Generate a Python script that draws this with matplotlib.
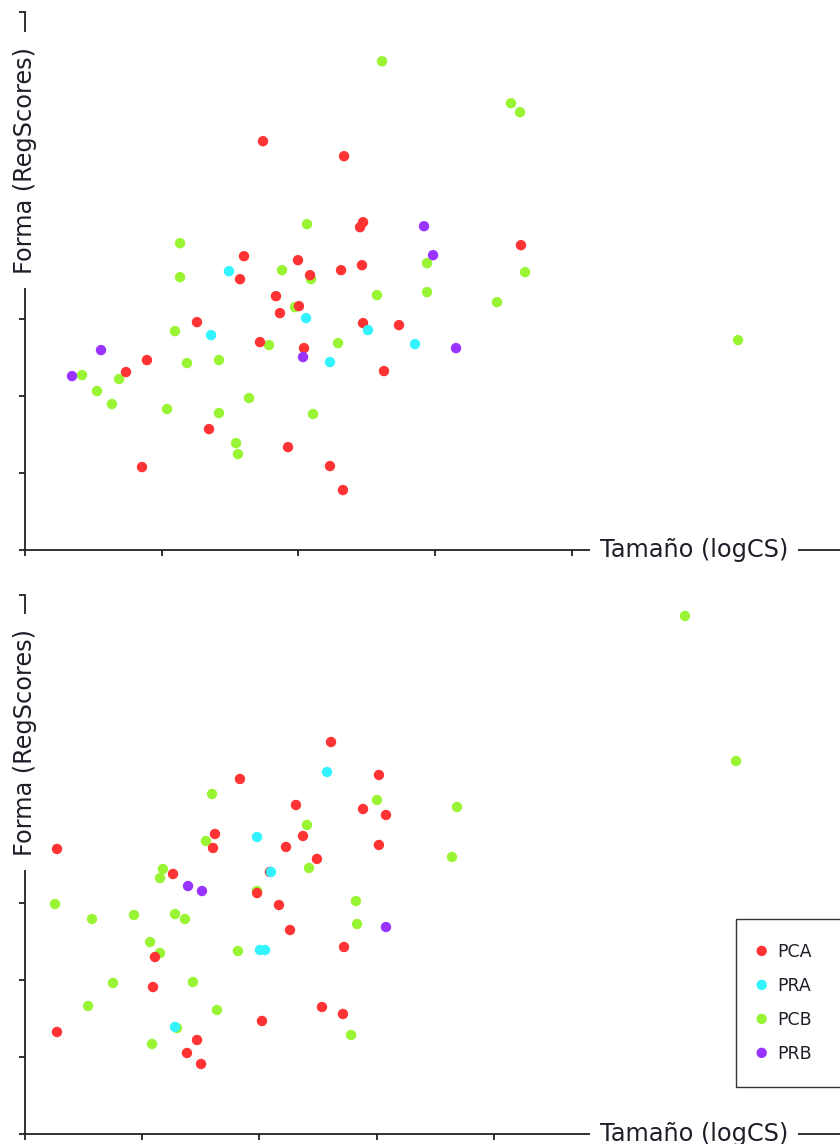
import matplotlib
matplotlib.use("Agg")
import matplotlib.pyplot as plt
from matplotlib.patches import Rectangle

# ---------------- data (axis units: one unit = one tick interval) ----------------
groups = ["PCA", "PRA", "PCB", "PRB"]
colors = {"PCA": "#ff3333", "PRA": "#33f3ff", "PCB": "#99f533", "PRB": "#9933ff"}

# Panel 1
p1_pca_x = [1.741, 2.334, 2.473, 2.451, 3.628, 1.602, 1.997, 1.573, 2.085, 2.312,
            2.465, 1.836, 2.004, 1.865, 1.258, 2.473, 2.736, 1.719, 2.041, 0.892,
            0.739, 2.626, 1.346, 1.924, 2.231, 0.856, 2.326]
p1_pca_y = [5.319, 5.124, 4.265, 4.200, 3.966, 3.823, 3.771, 3.524, 3.576, 3.641,
            3.706, 3.303, 3.173, 3.082, 2.965, 2.952, 2.926, 2.705, 2.627, 2.471,
            2.315, 2.328, 1.573, 1.339, 1.092, 1.079, 0.780]
p1_pra_x = [1.492, 2.056, 1.361, 2.509, 2.853, 2.231]
p1_pra_y = [3.628, 3.017, 2.796, 2.861, 2.679, 2.445]
p1_pcb_x = [2.612, 3.555, 3.621, 2.063, 1.134, 1.134, 1.880, 2.092, 2.941, 3.658,
            2.575, 2.941, 3.453, 1.975, 1.097, 1.785, 2.290, 5.216, 1.185, 1.419,
            0.417, 0.688, 0.527, 0.636, 1.039, 1.639, 1.419, 2.107, 1.544, 1.558]
p1_pcb_y = [6.359, 5.813, 5.696, 4.239, 3.992, 3.550, 3.641, 3.524, 3.732, 3.615,
            3.316, 3.355, 3.225, 3.160, 2.848, 2.666, 2.692, 2.731, 2.432, 2.471,
            2.276, 2.224, 2.068, 1.899, 1.834, 1.977, 1.782, 1.769, 1.391, 1.248]
p1_prb_x = [2.919, 2.985, 0.556, 0.344, 2.034, 3.153]
p1_prb_y = [4.213, 3.836, 2.601, 2.263, 2.510, 2.627]

# Panel 2
p2_pca_x = [2.611, 1.834, 3.020, 2.312, 2.884, 3.080, 0.273, 1.621, 1.604, 2.227,
            2.372, 2.491, 3.020, 1.263, 2.090, 1.980, 2.167, 2.261, 2.722, 1.109,
            1.092, 0.273, 2.022, 2.534, 2.713, 1.468, 1.382, 1.502]
p2_pca_y = [5.091, 4.610, 4.662, 4.272, 4.220, 4.142, 3.700, 3.895, 3.713, 3.726,
            3.869, 3.570, 3.752, 3.375, 3.401, 3.127, 2.971, 2.646, 2.425, 2.295,
            1.905, 1.320, 1.463, 1.645, 1.554, 1.216, 1.047, 0.904]
p2_pra_x = [2.577, 1.980, 2.099, 2.005, 2.048, 1.280]
p2_pra_y = [4.701, 3.856, 3.401, 2.386, 2.386, 1.385]
p2_pcb_x = [5.631, 6.067, 1.596, 3.003, 3.686, 2.406, 1.544, 3.643, 2.423, 1.177,
            1.152, 1.980, 0.256, 2.824, 0.572, 0.930, 1.280, 1.365, 2.833, 1.067,
            1.152, 1.817, 0.751, 1.433, 0.538, 1.638, 1.084, 2.782, 1.297]
p2_pcb_y = [6.730, 4.844, 4.415, 4.337, 4.246, 4.012, 3.804, 3.596, 3.453, 3.440,
            3.322, 3.153, 2.984, 3.023, 2.789, 2.841, 2.854, 2.789, 2.724, 2.490,
            2.347, 2.373, 1.957, 1.970, 1.658, 1.606, 1.164, 1.281, 1.372]
p2_prb_x = [1.391, 1.510, 3.080]
p2_prb_y = [3.218, 3.153, 2.685]

y_ticks = [0, 1, 2, 3, 4, 5, 6, 7]
x_ticks = [0, 1, 2, 3, 4]
xlabel = "Tamaño (logCS)"
ylabel = "Forma (RegScores)"

panels = [
    {"pca": (p1_pca_x, p1_pca_y), "pra": (p1_pra_x, p1_pra_y),
     "pcb": (p1_pcb_x, p1_pcb_y), "prb": (p1_prb_x, p1_prb_y)},
    {"pca": (p2_pca_x, p2_pca_y), "pra": (p2_pra_x, p2_pra_y),
     "pcb": (p2_pcb_x, p2_pcb_y), "prb": (p2_prb_x, p2_prb_y)},
]

# ---------------- layout (pixels) ----------------
W, H = 840, 1144
DPI = 100
fig = plt.figure(figsize=(W / DPI, H / DPI), dpi=DPI)
fig.patch.set_facecolor("white")

axis_col = "#222222"
text_col = "#1e1e28"

# (x0, y_bottom, y_top, px per x unit)
geo = [(25, 550, 12, 136.7), (25, 1133.5, 595.2, 117.2)]
ylab_center = [160, 742]

def fx(px):
    return px / W

def fy(py):
    return 1 - py / H

axes = []
for i, (x0, yb, yt, xu) in enumerate(geo):
    ax = fig.add_axes([fx(x0), fy(yb), fx(W - x0), (yb - yt) / H])
    ax.set_xlim(0, (W - x0) / xu)
    ax.set_ylim(0, 7)
    for s in ["top", "right"]:
        ax.spines[s].set_visible(False)
    for s in ["left", "bottom"]:
        ax.spines[s].set_color(axis_col)
        ax.spines[s].set_linewidth(1.3)
    ax.set_xticks(x_ticks)
    ax.set_yticks(y_ticks)
    ax.tick_params(axis="both", direction="out", length=4, width=1.3,
                   color=axis_col, labelbottom=False, labelleft=False)
    ax.set_facecolor("none")

    d = panels[i]
    handles = []
    for key, name in [("pcb", "PCB"), ("pca", "PCA"), ("pra", "PRA"), ("prb", "PRB")]:
        xs, ys = d[key]
        h = ax.scatter(xs, ys, s=56, color=colors[name], edgecolors="none",
                       label=name, zorder=3)
        handles.append((name, h))
    axes.append((ax, dict(handles)))

    # x label sitting on the axis line
    fig.text(fx(694), fy(yb), xlabel, ha="center", va="center", fontsize=17.3,
             color=text_col, zorder=5,
             bbox=dict(boxstyle="square,pad=0.4", fc="white", ec="none"))
    # y label sitting on the axis line
    fig.text(fx(x0), fy(ylab_center[i]), ylabel, ha="center", va="center",
             rotation=90, fontsize=17.3, color=text_col, zorder=5,
             bbox=dict(boxstyle="square,pad=0.6", fc="white", ec="none"))

# ---------------- legend ----------------
hd = axes[1][1]
leg_handles = [hd[g] for g in groups]
fig.patches.append(Rectangle((fx(736), fy(1087)), fx(200), (1087 - 919) / H,
                             transform=fig.transFigure, fill=False,
                             ec="#333333", lw=1.0, zorder=4))
leg = fig.legend(leg_handles, groups, loc="upper left",
                 bbox_to_anchor=(fx(753), fy(943)), bbox_transform=fig.transFigure,
                 frameon=False, fontsize=12.5, borderpad=0, borderaxespad=0,
                 handlelength=1.0, handletextpad=0.4, labelspacing=0.92,
                 scatterpoints=1, scatteryoffsets=[0.5], labelcolor=text_col)

fig.savefig("out.png", dpi=DPI)
